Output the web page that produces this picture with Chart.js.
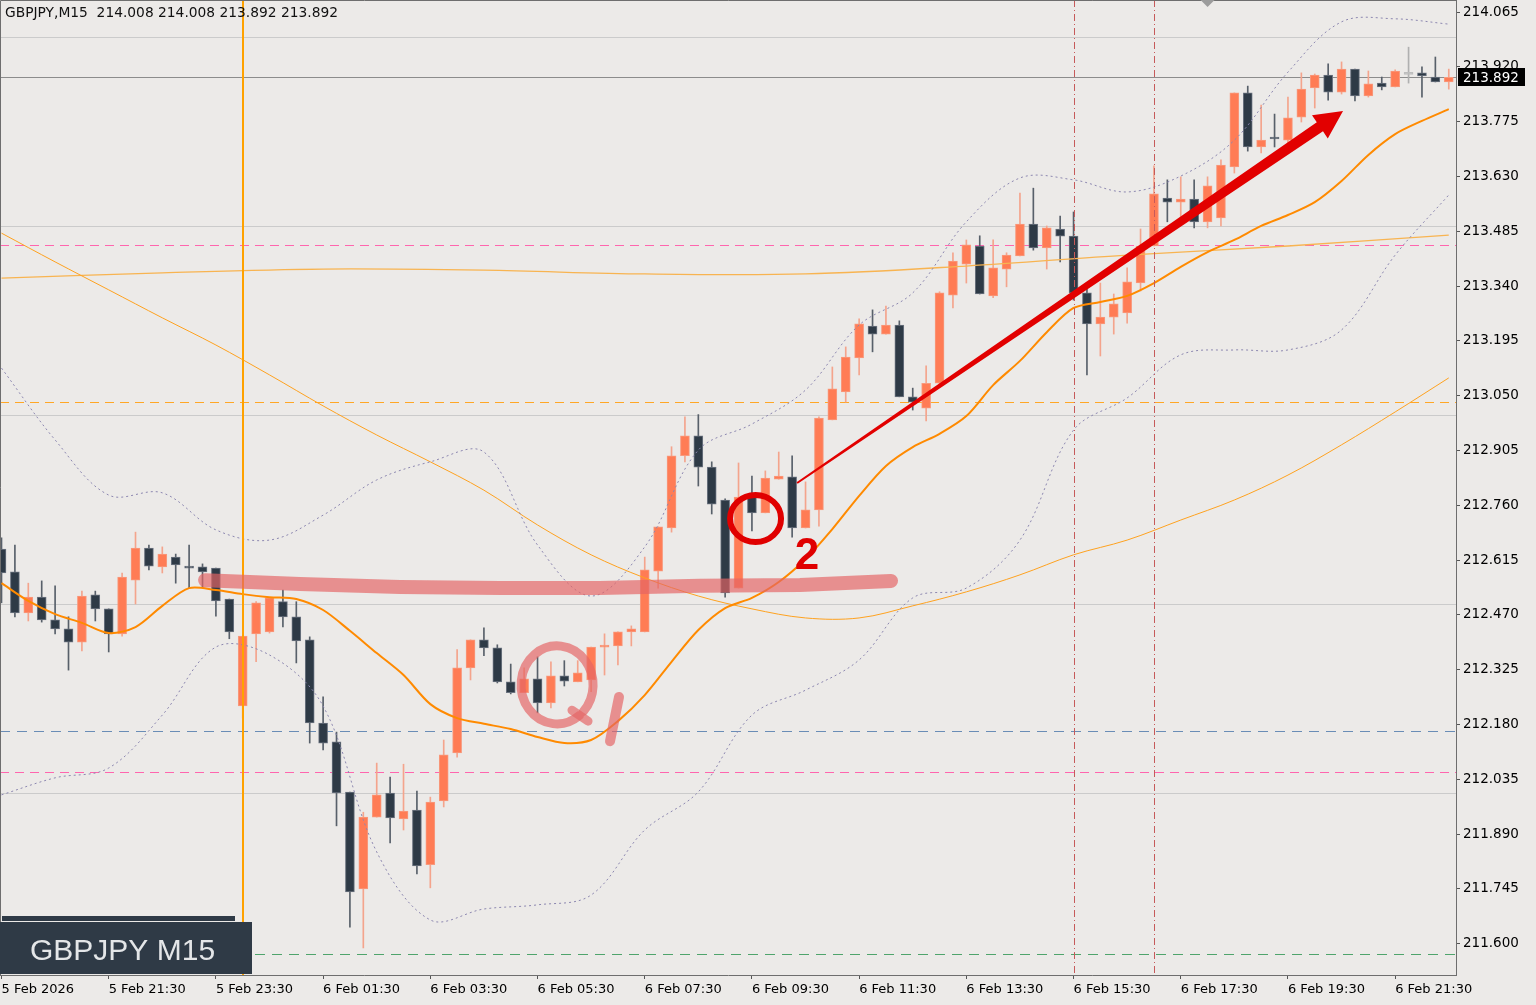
<!DOCTYPE html>
<html>
<head>
<meta charset="utf-8">
<script src="https://cdn.jsdelivr.net/npm/chart.js@4.4.1/dist/chart.umd.min.js"></script>
<style>
  html, body { margin: 0; padding: 0; background: #ECEAE8; }
  #wrap { width: 1536px; height: 1005px; }
</style>
</head>
<body>
<div id="wrap"><canvas id="myChart" width="1536" height="1005"></canvas></div>
<script>
// GBPJPY M15 candles, 5 Feb 19:30 -> 6 Feb 22:30
const opens = [
  212.644, 212.584, 212.475, 212.517, 212.457, 212.433, 212.398, 212.523, 212.486, 212.420,
  212.562, 212.647, 212.597, 212.623, 212.599, 212.597, 212.594, 212.512, 212.229, 212.420,
  212.425, 212.505, 212.465, 212.404, 212.184, 212.134, 212.001, 211.745, 211.935, 211.999,
  211.930, 211.954, 211.809, 211.978, 212.105, 212.330, 212.404, 212.383, 212.293, 212.264,
  212.301, 212.237, 212.309, 212.293, 212.298, 212.385, 212.388, 212.425, 212.425, 212.586,
  212.700, 212.891, 212.944, 212.861, 212.774, 212.541, 212.782, 212.740, 212.829, 212.835,
  212.700, 212.748, 212.986, 213.060, 213.150, 213.234, 213.213, 213.237, 213.047, 213.017,
  213.083, 213.316, 213.398, 213.446, 213.314, 213.385, 213.420, 213.504, 213.441, 213.491,
  213.472, 213.322, 213.240, 213.258, 213.269, 213.348, 213.446, 213.573, 213.562, 213.570,
  213.510, 213.520, 213.655, 213.851, 213.708, 213.734, 213.726, 213.787, 213.864, 213.898,
  213.853, 213.914, 213.843, 213.877, 213.867, 213.900, 213.904, 213.893, 213.880
];
const highs = [
  212.674, 212.655, 212.554, 212.560, 212.547, 212.465, 212.533, 212.533, 212.486, 212.581,
  212.689, 212.655, 212.650, 212.631, 212.655, 212.605, 212.594, 212.512, 212.414, 212.505,
  212.515, 212.536, 212.505, 212.412, 212.253, 212.160, 212.001, 211.948, 212.078, 212.041,
  212.075, 212.004, 211.988, 212.139, 212.378, 212.404, 212.436, 212.391, 212.340, 212.330,
  212.359, 212.346, 212.349, 212.349, 212.385, 212.420, 212.425, 212.441, 212.623, 212.703,
  212.915, 212.994, 213.000, 212.875, 212.777, 212.872, 212.837, 212.851, 212.901, 212.891,
  212.822, 212.994, 213.126, 213.179, 213.253, 213.277, 213.287, 213.248, 213.070, 213.129,
  213.325, 213.428, 213.462, 213.473, 213.462, 213.428, 213.586, 213.599, 213.499, 213.525,
  213.536, 213.335, 213.348, 213.319, 213.388, 213.491, 213.658, 213.621, 213.629, 213.621,
  213.629, 213.674, 213.851, 213.869, 213.819, 213.795, 213.840, 213.904, 213.901, 213.928,
  213.933, 213.914, 213.909, 213.893, 213.912, 213.972, 213.920, 213.946, 213.914
];
const lows = [
  212.502, 212.465, 212.454, 212.451, 212.420, 212.324, 212.375, 212.454, 212.372, 212.414,
  212.499, 212.589, 212.581, 212.554, 212.541, 212.544, 212.467, 212.407, 212.197, 212.346,
  212.422, 212.438, 212.343, 212.131, 212.113, 211.912, 211.644, 211.589, 211.935, 211.867,
  211.901, 211.785, 211.748, 211.962, 212.094, 212.298, 212.362, 212.290, 212.261, 212.264,
  212.211, 212.224, 212.282, 212.293, 212.267, 212.311, 212.338, 212.388, 212.425, 212.541,
  212.689, 212.875, 212.811, 212.737, 212.517, 212.541, 212.692, 212.740, 212.829, 212.676,
  212.700, 212.705, 212.986, 213.033, 213.105, 213.166, 213.213, 213.047, 213.012, 212.983,
  213.080, 213.282, 213.348, 213.319, 213.309, 213.338, 213.420, 213.435, 213.385, 213.404,
  213.303, 213.105, 213.155, 213.213, 213.242, 213.327, 213.446, 213.510, 213.510, 213.494,
  213.494, 213.499, 213.639, 213.697, 213.692, 213.708, 213.718, 213.774, 213.811, 213.832,
  213.848, 213.830, 213.840, 213.859, 213.867, 213.877, 213.840, 213.880, 213.861
];
const closes = [
  212.581, 212.475, 212.517, 212.457, 212.433, 212.398, 212.520, 212.486, 212.420, 212.570,
  212.647, 212.599, 212.631, 212.602, 212.594, 212.584, 212.507, 212.425, 212.414, 212.502,
  212.515, 212.465, 212.401, 212.184, 212.131, 211.999, 211.737, 211.935, 211.994, 211.933,
  211.951, 211.806, 211.975, 212.100, 212.330, 212.404, 212.383, 212.293, 212.264, 212.301,
  212.237, 212.309, 212.295, 212.317, 212.385, 212.388, 212.425, 212.433, 212.589, 212.703,
  212.891, 212.944, 212.861, 212.763, 212.528, 212.782, 212.740, 212.832, 212.837, 212.700,
  212.748, 212.991, 213.068, 213.152, 213.240, 213.213, 213.237, 213.047, 213.033, 213.083,
  213.322, 213.406, 213.449, 213.319, 213.388, 213.422, 213.504, 213.441, 213.494, 213.472,
  213.322, 213.240, 213.258, 213.293, 213.351, 213.446, 213.584, 213.562, 213.570, 213.510,
  213.605, 213.660, 213.851, 213.708, 213.726, 213.729, 213.785, 213.861, 213.898, 213.853,
  213.914, 213.843, 213.875, 213.867, 213.909, 213.900, 213.896, 213.880, 213.892
];

// indicator lines (fast MA every 2 bars, the rest every 4 or 12 bars)
const maFast = [
  212.554, 212.507, 212.472, 212.449, 212.422, 212.438, 212.494, 212.541, 212.536, 212.525,
  212.517, 212.512, 212.483, 212.428, 212.369, 212.311, 212.234, 212.197, 212.182, 212.168,
  212.147, 212.131, 212.139, 212.189, 212.258, 212.346, 212.430, 212.488, 212.515, 212.557,
  212.618, 212.697, 212.785, 212.864, 212.914, 212.949, 212.996, 213.078, 213.142, 213.218,
  213.282, 213.298, 213.314, 213.348, 213.391, 213.430, 213.462, 213.499, 213.528, 213.562,
  213.618, 213.687, 213.742, 213.777, 213.808
];
const maSlow = [
  213.480, 213.404, 213.330, 213.256, 213.184, 213.105, 213.023, 212.946, 212.875, 212.800,
  212.708, 212.629, 212.568, 212.520, 212.486, 212.462, 212.462, 212.494, 212.531, 212.576,
  212.629, 212.668, 212.721, 212.774, 212.840, 212.920, 213.007, 213.097
];
const maHigherTf = [213.361, 213.375, 213.385, 213.382, 213.372, 213.372, 213.393, 213.422, 213.446, 213.475];
const bbUpper = [
  213.123, 212.933, 212.787, 212.793, 212.695, 212.668, 212.734, 212.827, 212.875, 212.901,
  212.655, 212.520, 212.650, 212.906, 212.975, 213.065, 213.237, 213.322, 213.510, 213.626,
  213.621, 213.589, 213.631, 213.726, 213.906, 214.039, 214.047, 214.033
];
const bbLower = [
  211.994, 212.039, 212.065, 212.205, 212.385, 212.364, 212.229, 211.843, 211.663, 211.692,
  211.703, 211.729, 211.901, 212.002, 212.205, 212.271, 212.351, 212.515, 212.541, 212.668,
  212.959, 213.044, 213.158, 213.171, 213.171, 213.224, 213.422, 213.581
];

// axes
const tickPrices = [211.600, 211.745, 211.890, 212.035, 212.180, 212.325, 212.470, 212.615, 212.760,
  212.905, 213.050, 213.195, 213.340, 213.485, 213.630, 213.775, 213.920, 214.065];
const timeLabels = ['5 Feb 2026', '5 Feb 21:30', '5 Feb 23:30', '6 Feb 01:30', '6 Feb 03:30', '6 Feb 05:30',
  '6 Feb 07:30', '6 Feb 09:30', '6 Feb 11:30', '6 Feb 13:30', '6 Feb 15:30', '6 Feb 17:30', '6 Feb 19:30', '6 Feb 21:30'];
const timeIdx = timeLabels.map((_, k) => k * 8);

// horizontal levels / vertical markers
const roundLevels = [212.000, 212.500, 213.000, 213.500, 214.000];
const pinkLevels = [213.449, 212.054];
const orangeLevel = 213.033;
const blueLevel = 212.163;
const greenLevel = 211.573;
const lastPrice = 213.892;
const dayStartBar = 18;
const redMarkBars = [80, 86];

// hand drawn notes (bar index, price)
const bandIdx = [15.19, 22.28, 29.74, 37.2, 44.66, 52.13, 59.59, 66.38];
const bandPrice = [212.562, 212.552, 212.544, 212.541, 212.541, 212.547, 212.549, 212.560];

function every(step, values) {
    return values.map((v, k) => ({ x: Math.min(k * step, opens.length - 1), y: v }));
}

const bars = opens.map((_, i) => i);
function isUp(i) { return closes[i] > opens[i]; }
function isDown(i) { return closes[i] < opens[i]; }

const bodyFill = bars.map(i => isUp(i) ? '#FF7C55' : (isDown(i) ? '#2E3A46' : '#BDBDBD'));
const bodyEdge = bars.map(i => isUp(i) ? '#F89A7E' : (isDown(i) ? '#6C7480' : '#BDBDBD'));
const wickFill = bars.map(i => isUp(i) ? '#F4A48C' : (isDown(i) ? '#58606A' : '#B0B0B0'));

function hLine(ctx, area, y, color, width, dash) {
    ctx.beginPath();
    ctx.setLineDash(dash || []);
    ctx.strokeStyle = color;
    ctx.lineWidth = width;
    const yy = Math.round(y) + 0.5;
    ctx.moveTo(area.left, yy);
    ctx.lineTo(area.right, yy);
    ctx.stroke();
}

const overlay = {
    id: 'overlay',
    beforeDraw(chart) {
        const ctx = chart.ctx;
        ctx.save();
        ctx.fillStyle = '#ECEAE8';
        ctx.fillRect(0, 0, chart.width, chart.height);
        ctx.restore();
    },
    beforeDatasetsDraw(chart) {
        const ctx = chart.ctx, area = chart.chartArea, y = chart.scales.y;
        ctx.save();
        ctx.beginPath();
        ctx.rect(area.left, area.top, area.right - area.left, area.bottom - area.top);
        ctx.clip();
        roundLevels.forEach(p => hLine(ctx, area, y.getPixelForValue(p), '#CBCBCB', 1));
        hLine(ctx, area, y.getPixelForValue(lastPrice), '#8C8C8C', 1);
        pinkLevels.forEach(p => hLine(ctx, area, y.getPixelForValue(p), '#FF66AE', 1, [9, 6]));
        hLine(ctx, area, y.getPixelForValue(orangeLevel), '#FFA726', 1, [9, 6]);
        hLine(ctx, area, y.getPixelForValue(blueLevel), '#6A8DB6', 1, [10, 7]);
        hLine(ctx, area, y.getPixelForValue(greenLevel), '#4FA46C', 1, [10, 7]);
        ctx.restore();
    },
    afterDatasetsDraw(chart) {
        const ctx = chart.ctx, area = chart.chartArea;
        const X = v => chart.scales.x.getPixelForValue(v);
        const Y = v => chart.scales.y.getPixelForValue(v);
        ctx.save();
        ctx.beginPath();
        ctx.rect(area.left, area.top, area.right - area.left, area.bottom - area.top);
        ctx.clip();

        // vertical markers
        ctx.beginPath();
        ctx.strokeStyle = '#FFA200';
        ctx.lineWidth = 2;
        ctx.moveTo(Math.round(X(dayStartBar)), area.top);
        ctx.lineTo(Math.round(X(dayStartBar)), area.bottom);
        ctx.stroke();
        redMarkBars.forEach(b => {
            ctx.beginPath();
            ctx.setLineDash([7, 3, 1, 3]);
            ctx.strokeStyle = '#C65A5A';
            ctx.lineWidth = 1;
            const xx = Math.round(X(b)) + 0.5;
            ctx.moveTo(xx, area.top);
            ctx.lineTo(xx, area.bottom);
            ctx.stroke();
        });
        ctx.setLineDash([]);

        // thick pink band
        ctx.beginPath();
        ctx.strokeStyle = 'rgba(228, 100, 100, 0.68)';
        ctx.lineWidth = 14;
        ctx.lineCap = 'round';
        ctx.lineJoin = 'round';
        bandIdx.forEach((b, k) => {
            if (k === 0) ctx.moveTo(X(b), Y(bandPrice[k]));
            else ctx.lineTo(X(b), Y(bandPrice[k]));
        });
        ctx.stroke();

        // pink "Q" loop and slash
        ctx.strokeStyle = 'rgba(228, 100, 100, 0.68)';
        ctx.lineWidth = 9;
        ctx.beginPath();
        ctx.ellipse(X(41.46), Y(212.285), 36, 39, 0, 0.9, 0.9 + Math.PI * 2 - 0.15);
        ctx.stroke();
        ctx.beginPath();
        ctx.moveTo(X(42.57), Y(212.218));
        ctx.lineTo(X(43.77), Y(212.189));
        ctx.stroke();
        ctx.lineWidth = 10;
        ctx.beginPath();
        ctx.moveTo(X(46.08), Y(212.253));
        ctx.lineTo(X(45.41), Y(212.136));
        ctx.stroke();

        // red circle and "2"
        ctx.strokeStyle = '#E00000';
        ctx.lineWidth = 6;
        ctx.beginPath();
        ctx.ellipse(X(56.27), Y(212.725), 25.5, 23.5, 0, 0, Math.PI * 2);
        ctx.stroke();
        ctx.fillStyle = '#E00000';
        ctx.font = 'bold 44px "Liberation Sans", sans-serif';
        ctx.textAlign = 'center';
        ctx.textBaseline = 'middle';
        ctx.fillText('2', X(60.11), Y(212.623));

        // red arrow, tapering shaft
        const sx = X(59.37), sy = Y(212.819), tx = X(100.11), ty = Y(213.803);
        const len = Math.hypot(tx - sx, ty - sy);
        const ux = (tx - sx) / len, uy = (ty - sy) / len;
        const nx = -uy, ny = ux;
        const hx = tx - ux * 28, hy = ty - uy * 28;
        ctx.beginPath();
        ctx.moveTo(sx + nx * 1, sy + ny * 1);
        ctx.lineTo(hx + nx * 5.5, hy + ny * 5.5);
        ctx.lineTo(hx + nx * 14, hy + ny * 14);
        ctx.lineTo(tx, ty);
        ctx.lineTo(hx - nx * 14, hy - ny * 14);
        ctx.lineTo(hx - nx * 5.5, hy - ny * 5.5);
        ctx.lineTo(sx - nx * 1, sy - ny * 1);
        ctx.closePath();
        ctx.fillStyle = '#E20000';
        ctx.fill();
        ctx.restore();
    },
    afterDraw(chart) {
        const ctx = chart.ctx, area = chart.chartArea;
        const X = v => chart.scales.x.getPixelForValue(v);
        const Y = v => chart.scales.y.getPixelForValue(v);
        ctx.save();
        // frame
        ctx.strokeStyle = '#6E6E6E';
        ctx.lineWidth = 1;
        ctx.beginPath();
        ctx.moveTo(0.5, area.bottom);
        ctx.lineTo(0.5, 0.5);
        ctx.lineTo(area.right, 0.5);
        ctx.stroke();

        // shift marker
        ctx.fillStyle = '#9C9C9C';
        ctx.beginPath();
        ctx.moveTo(X(90) - 7, 0);
        ctx.lineTo(X(90) + 7, 0);
        ctx.lineTo(X(90), 7);
        ctx.closePath();
        ctx.fill();

        // last price tag
        const py = Math.round(Y(lastPrice));
        ctx.fillStyle = '#000';
        ctx.fillRect(area.right + 2, py - 9, 67, 18);
        ctx.fillStyle = '#fff';
        ctx.font = '13.5px "DejaVu Sans"';
        ctx.textAlign = 'left';
        ctx.textBaseline = 'middle';
        ctx.fillText(lastPrice.toFixed(3), area.right + 7, py + 1);

        // header
        ctx.fillStyle = '#111';
        ctx.font = '13.8px "DejaVu Sans"';
        ctx.textBaseline = 'middle';
        ctx.fillText('GBPJPY,M15  214.008 214.008 213.892 213.892', 5, 13);

        // symbol box
        ctx.fillStyle = '#2F3A46';
        ctx.fillRect(2, 916, 233, 5);
        ctx.fillRect(0, 922, 252, 52);
        ctx.fillStyle = '#E4E6E8';
        ctx.font = '30px "Liberation Sans", sans-serif';
        ctx.textBaseline = 'alphabetic';
        ctx.fillText('GBPJPY M15', 30, 960);
        ctx.restore();
    }
};

const tickFont = { family: 'DejaVu Sans', size: 13 };

new Chart(document.getElementById('myChart'), {
    type: 'bar',
    data: {
        datasets: [
            { type: 'line', label: 'BB upper', data: every(4, bbUpper), borderColor: '#8C87B0', borderWidth: 1,
              borderDash: [2, 3], pointRadius: 0, tension: 0.35, order: 1 },
            { type: 'line', label: 'BB lower', data: every(4, bbLower), borderColor: '#8C87B0', borderWidth: 1,
              borderDash: [2, 3], pointRadius: 0, tension: 0.35, order: 1 },
            { type: 'line', label: 'MA slow', data: every(4, maSlow), borderColor: '#FFA21F', borderWidth: 1,
              pointRadius: 0, tension: 0.35, order: 1 },
            { type: 'line', label: 'MA HTF', data: every(12, maHigherTf), borderColor: '#F8B451', borderWidth: 1.3,
              pointRadius: 0, tension: 0.35, order: 1 },
            { type: 'line', label: 'MA fast', data: every(2, maFast), borderColor: '#FF8A00', borderWidth: 2,
              pointRadius: 0, tension: 0.3, order: 0 },
            { label: 'wick', data: bars.map(i => ({ x: i, y: [lows[i], highs[i]] })), backgroundColor: wickFill,
              barThickness: 1, grouped: false, order: 3 },
            { label: 'body', data: bars.map(i => ({ x: i, y: [opens[i], closes[i]] })), backgroundColor: bodyFill,
              borderColor: bodyEdge, borderWidth: 1, borderSkipped: false, barThickness: 9, minBarLength: 2,
              grouped: false, order: 2 }
        ]
    },
    options: {
        responsive: false,
        animation: false,
        events: [],
        layout: { padding: 0 },
        plugins: { legend: { display: false }, tooltip: { enabled: false } },
        scales: {
            x: {
                type: 'linear', min: -0.112, max: 108.54, offset: false,
                grid: { drawOnChartArea: false, drawTicks: true, tickLength: 4, color: '#555', offset: false },
                border: { display: true, color: '#6E6E6E' },
                afterBuildTicks: s => { s.ticks = timeIdx.map(v => ({ value: v })); },
                ticks: { autoSkip: false, maxRotation: 0, align: 'start', padding: 3, color: '#000', font: tickFont,
                         callback: (v, k) => timeLabels[k] },
                afterFit: s => { s.height = 30; s.paddingLeft = 0; s.paddingRight = 0; }
            },
            y: {
                position: 'right', min: 211.5174, max: 214.0968,
                grid: { drawOnChartArea: false, drawTicks: true, tickLength: 4, color: '#555' },
                border: { display: true, color: '#6E6E6E' },
                afterBuildTicks: s => { s.ticks = tickPrices.map(v => ({ value: v })); },
                ticks: { autoSkip: false, padding: 3, color: '#000', font: { family: 'DejaVu Sans', size: 13.5 },
                         callback: v => Number(v).toFixed(3) },
                afterFit: s => { s.width = 80; s.paddingTop = 0; s.paddingBottom = 0; }
            }
        }
    },
    plugins: [overlay]
});
</script>
</body>
</html>
